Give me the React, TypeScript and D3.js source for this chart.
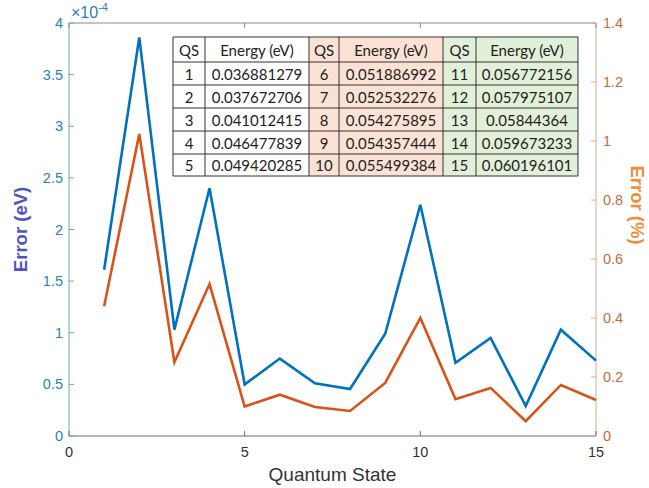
import React from "react";
import * as d3 from "d3";

const quantumStates = [1, 2, 3, 4, 5, 6, 7, 8, 9, 10, 11, 12, 13, 14, 15];
// Error in eV, in units of 1e-4
const errorEv = [1.61, 3.86, 1.03, 2.4, 0.5, 0.75, 0.51, 0.455, 0.99, 2.24, 0.71, 0.95, 0.29, 1.03, 0.73];
// Error in %
const errorPct = [0.44, 1.024, 0.25, 0.515, 0.1, 0.14, 0.098, 0.085, 0.18, 0.4, 0.125, 0.163, 0.05, 0.173, 0.122];
const energies = [
  "0.036881279", "0.037672706", "0.041012415", "0.046477839", "0.049420285",
  "0.051886992", "0.052532276", "0.054275895", "0.054357444", "0.055499384",
  "0.056772156", "0.057975107", "0.05844364", "0.059673233", "0.060196101",
];
const xTicks = [0, 5, 10, 15];
const leftTicks = [0, 0.5, 1, 1.5, 2, 2.5, 3, 3.5, 4];
const rightTicks = [0, 0.2, 0.4, 0.6, 0.8, 1, 1.2, 1.4];

const W = 649, H = 488;
const L = 69, R = 596, T = 23, B = 436;
const BLUE = "#0072BD";
const ORANGE = "#D95319";

export default function App() {
  const x = d3.scaleLinear().domain([0, 15]).range([L, R]);
  const yL = d3.scaleLinear().domain([0, 4]).range([B, T]);
  const yR = d3.scaleLinear().domain([0, 1.4]).range([B, T]);
  const lineL = d3.line<number>().x((_, i) => x(quantumStates[i])).y((d) => yL(d));
  const lineR = d3.line<number>().x((_, i) => x(quantumStates[i])).y((d) => yR(d));

  // table layout
  const colX = [173, 205, 309, 339, 443, 476, 578];
  const rowY = [37, 62, 85, 108, 131, 154, 176];
  const groupBg = ["#ffffff", "#fbe2d5", "#e2f0d9"];
  const tableFont = "Lato, 'Open Sans', sans-serif";

  const cells: React.ReactNode[] = [];
  for (let g = 0; g < 3; g++) {
    const c0 = g * 2;
    cells.push(
      <rect key={"bg" + g} x={colX[c0]} y={rowY[0]} width={colX[c0 + 2] - colX[c0]} height={rowY[6] - rowY[0]} fill={groupBg[g]} />
    );
    const cy0 = (rowY[0] + rowY[1]) / 2;
    cells.push(
      <text key={"hq" + g} x={(colX[c0] + colX[c0 + 1]) / 2} y={cy0} textAnchor="middle" dominantBaseline="central">QS</text>
    );
    cells.push(
      <text key={"he" + g} x={(colX[c0 + 1] + colX[c0 + 2]) / 2} y={cy0} textAnchor="middle" dominantBaseline="central">Energy (eV)</text>
    );
    for (let r = 0; r < 5; r++) {
      const idx = g * 5 + r;
      const cy = (rowY[r + 1] + rowY[r + 2]) / 2;
      cells.push(
        <text key={"q" + idx} x={(colX[c0] + colX[c0 + 1]) / 2} y={cy} textAnchor="middle" dominantBaseline="central">{quantumStates[idx]}</text>
      );
      cells.push(
        <text key={"e" + idx} x={(colX[c0 + 1] + colX[c0 + 2]) / 2} y={cy} textAnchor="middle" dominantBaseline="central">{energies[idx]}</text>
      );
    }
  }
  const gridLines: React.ReactNode[] = [];
  colX.forEach((cx, i) =>
    gridLines.push(<line key={"vc" + i} x1={cx} x2={cx} y1={rowY[0]} y2={rowY[6]} stroke="#333" strokeWidth={1} />)
  );
  rowY.forEach((ry, i) =>
    gridLines.push(<line key={"hr" + i} x1={colX[0]} x2={colX[6]} y1={ry} y2={ry} stroke="#333" strokeWidth={1} />)
  );

  const axisFont = "'Liberation Sans', Arial, sans-serif";

  return (
    <svg width={W} height={H} style={{ position: "absolute", left: 0, top: 0, background: "#fff" }}>
      <rect x={0} y={0} width={W} height={H} fill="#fff" />
      {/* box */}
      <line x1={L} x2={R} y1={T} y2={T} stroke="#8a8a8a" strokeWidth={1} />
      <line x1={L} x2={R} y1={B} y2={B} stroke="#6e6e6e" strokeWidth={1} />
      <line x1={L} x2={L} y1={T} y2={B} stroke="#6fa3c4" strokeWidth={1} />
      <line x1={R} x2={R} y1={T} y2={B} stroke="#d9ab92" strokeWidth={1} />

      {/* x ticks */}
      {xTicks.map((t) => (
        <g key={"xt" + t}>
          <line x1={x(t)} x2={x(t)} y1={B} y2={B - 5} stroke="#6e6e6e" />
          <line x1={x(t)} x2={x(t)} y1={T} y2={T + 5} stroke="#8a8a8a" />
          <text x={x(t)} y={B + 16} textAnchor="middle" dominantBaseline="central" fontFamily={axisFont} fontSize={14.5} fill="#333">{t}</text>
        </g>
      ))}
      {/* left ticks */}
      {leftTicks.map((t) => (
        <g key={"lt" + t}>
          <line x1={L} x2={L + 5} y1={yL(t)} y2={yL(t)} stroke="#6fa3c4" />
          <text x={63} y={yL(t)} textAnchor="end" dominantBaseline="central" fontFamily={axisFont} fontSize={14.5} fill="#2b80b3">{t}</text>
        </g>
      ))}
      {/* right ticks */}
      {rightTicks.map((t) => (
        <g key={"rt" + t}>
          <line x1={R} x2={R - 5} y1={yR(t)} y2={yR(t)} stroke="#d9ab92" />
          <text x={603} y={yR(t)} textAnchor="start" dominantBaseline="central" fontFamily={axisFont} fontSize={14.5} fill="#c7693e">{t}</text>
        </g>
      ))}
      <text x={71} y={18} fontFamily={axisFont} fontSize={16} fill="#2b80b3">
        ×10<tspan fontSize={11} dy={-7}>-4</tspan>
      </text>

      {/* lines */}
      <path d={lineL(errorEv) || ""} fill="none" stroke={BLUE} strokeWidth={2.6} strokeLinejoin="miter" />
      <path d={lineR(errorPct) || ""} fill="none" stroke={ORANGE} strokeWidth={2.6} strokeLinejoin="miter" />

      {/* axis labels */}
      <text x={(L + R) / 2} y={474} textAnchor="middle" dominantBaseline="central" fontFamily={axisFont} fontSize={19} fill="#333">Quantum State</text>
      <text transform={`translate(20, ${(T + B) / 2}) rotate(-90)`} textAnchor="middle" dominantBaseline="central" fontFamily={axisFont} fontSize={18.5} fontWeight="bold" fill="#4d55c6">Error (eV)</text>
      <text transform={`translate(637, 205) rotate(90)`} textAnchor="middle" dominantBaseline="central" fontFamily={axisFont} fontSize={18.5} fontWeight="bold" fill="#ee8d3a">Error (%)</text>

      {/* table */}
      <g fontFamily={tableFont} fontSize={15} fill="#222">
        {cells}
        {gridLines}
      </g>
    </svg>
  );
}
